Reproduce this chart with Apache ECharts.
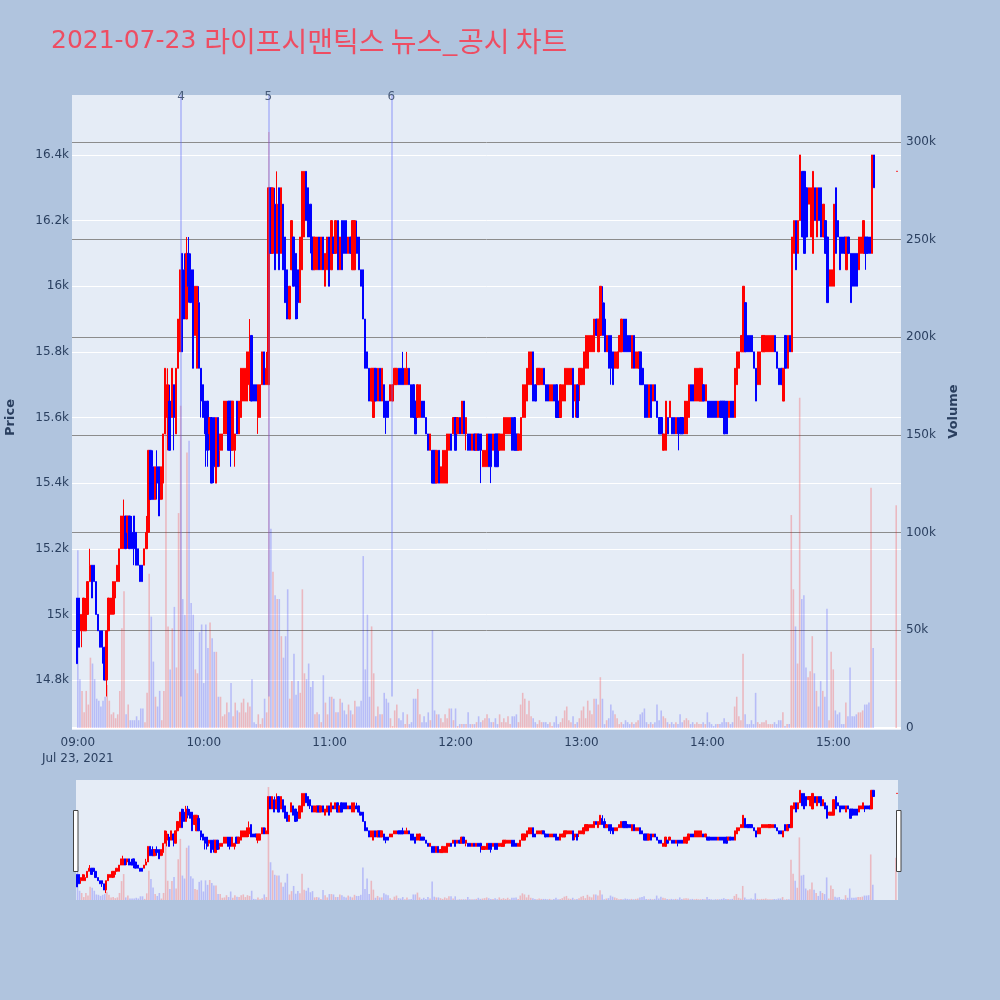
<!DOCTYPE html>
<html>
<head>
<meta charset="utf-8">
<script src="https://cdn.jsdelivr.net/npm/echarts@6/dist/echarts.min.js"></script>
<style>
html,body{margin:0;padding:0;background:#b0c4de;}
#chart{width:1000px;height:1000px;}
</style>
</head>
<body>
<div id="chart"></div>
<script>
// ---------------- DATA ----------------
const titleDate = '2021-07-23';
const titleText = '라이프시맨틱스 뉴스_공시 차트';
const dateLabel = 'Jul 23, 2021';
const tradeDay = [2021, 6, 23]; // year, month (0-based), day

// one candle per minute: [open, close, low, high]
const candles0900 = [
[15050,14850,14850,15050],[15050,14900,14900,15050],[14950,15000,14900,15000],[14950,15050,14950,15050],[14950,15000,14950,15050],
[15000,15100,15000,15100],[15100,15150,15100,15200],[15150,15050,15050,15150],[15150,15100,15100,15150],[15100,15000,15000,15100],
[15000,14950,14950,15000],[14950,14900,14900,14950],[14950,14900,14850,14950],[14900,14800,14800,14900],[14800,14950,14750,14950],
[14950,15050,14950,15050],[15000,15050,15000,15050],[15000,15100,15000,15100],[15050,15100,15000,15100],[15100,15150,15100,15150],
[15100,15200,15100,15200],[15200,15300,15200,15300],[15200,15300,15200,15350],[15300,15200,15200,15300],[15250,15300,15200,15300],
[15300,15200,15200,15300],[15250,15200,15200,15300],[15300,15200,15150,15300],[15250,15150,15150,15250],[15200,15150,15150,15200],
[15150,15100,15100,15150],[15150,15100,15100,15150],[15150,15200,15150,15200],[15200,15250,15200,15300],[15250,15500,15250,15500],
[15500,15350,15350,15500],[15450,15350,15350,15500],[15350,15450,15350,15450],[15450,15400,15350,15500],[15450,15300,15300,15450],
[15350,15450,15350,15450],[15400,15550,15350,15550],[15550,15750,15550,15750],[15600,15700,15500,15750],[15650,15500,15500,15700],
[15600,15750,15600,15750],[15700,15600,15500,15700],[15550,15750,15550,15750],[15750,15900,15750,15900],[15800,16050,15800,16050],
[16100,15800,15800,16100],[16050,15900,15900,16100],[15900,16100,15900,16150],[16100,16000,15950,16150],[16050,15950,15950,16100],
[16050,15750,15750,16050],[15850,16000,15850,16000],[15750,16000,15750,16000],[15950,15750,15750,16000],[15750,15650,15600,15750]
];
const candles1000 = [
[15700,15600,15600,15700],[15650,15550,15450,15650],[15650,15500,15450,15650],[15550,15600,15500,15600],[15600,15400,15400,15600],
[15600,15450,15400,15600],[15400,15600,15400,15600],[15600,15450,15450,15600],[15500,15550,15450,15550],[15500,15550,15500,15550],
[15550,15650,15550,15650],[15550,15650,15550,15650],[15650,15500,15500,15650],[15650,15500,15450,15650],[15500,15650,15500,15650],
[15500,15550,15450,15550],[15650,15550,15550,15650],[15550,15650,15550,15650],[15600,15750,15600,15750],[15650,15750,15650,15750],
[15650,15750,15650,15750],[15650,15800,15650,15800],[15700,15800,15650,15900],[15850,15650,15650,15850],[15700,15650,15650,15700],
[15700,15650,15650,15700],[15600,15700,15550,15700],[15600,15700,15600,15700],[15700,15800,15700,15800],[15800,15700,15700,15800],
[15700,15750,15700,15800],[15700,16300,15700,16300],[16300,16100,16100,16300],[16100,16300,16100,16300],[16250,16050,16050,16300],
[16100,16250,16100,16350],[16300,16050,16050,16300],[16100,16300,16100,16300],[16250,16050,16050,16250],[16150,15950,15950,16150],
[16050,15900,15900,16050],[15900,16000,15900,16000],[16050,16200,16050,16200],[16150,16000,16000,16150],[16100,15900,15900,16100],
[16050,15950,15900,16050],[15950,16150,15950,16150],[16050,16350,16050,16350],[16150,16350,16150,16350],[16350,16200,16200,16350],
[16300,16150,16150,16300],[16250,16150,16100,16250],[16150,16050,16050,16150],[16050,16150,16050,16150],[16050,16150,16050,16150],
[16150,16050,16050,16150],[16050,16150,16050,16150],[16150,16050,16050,16150],[16000,16100,16000,16100],[16050,16150,16050,16150]
];
const candles1100 = [
[16150,16000,16000,16150],[16050,16200,16050,16200],[16150,16100,16100,16150],[16100,16200,16100,16200],[16200,16050,16050,16200],
[16050,16150,16050,16150],[16200,16050,16050,16200],[16200,16100,16100,16200],[16200,16100,16100,16200],[16100,16150,16100,16150],
[16150,16100,16100,16150],[16050,16200,16050,16200],[16050,16200,16050,16200],[16150,16100,16100,16200],[16150,16050,16050,16150],
[16050,16000,16000,16050],[16050,15900,15900,16050],[15900,15750,15750,15900],[15800,15750,15750,15800],[15750,15650,15650,15750],
[15650,15750,15650,15750],[15600,15750,15600,15750],[15750,15650,15650,15750],[15650,15750,15650,15750],[15750,15650,15650,15750],
[15650,15750,15650,15750],[15700,15600,15600,15700],[15650,15600,15550,15650],[15650,15600,15600,15650],[15650,15700,15650,15700],
[15650,15700,15650,15700],[15700,15750,15700,15750],[15700,15750,15700,15750],[15750,15700,15700,15750],[15750,15700,15700,15750],
[15750,15700,15700,15800],[15700,15750,15700,15750],[15700,15750,15700,15800],[15750,15700,15700,15750],[15700,15600,15600,15700],
[15700,15600,15600,15700],[15650,15550,15550,15650],[15600,15700,15600,15700],[15600,15700,15600,15700],[15650,15600,15600,15650],
[15650,15600,15600,15650],[15600,15550,15550,15600],[15550,15500,15500,15550],[15500,15550,15500,15550],[15500,15400,15400,15500],
[15500,15400,15400,15500],[15400,15500,15400,15500],[15500,15400,15400,15500],[15400,15450,15400,15450],[15400,15500,15400,15500],
[15400,15500,15400,15500],[15400,15550,15400,15550],[15500,15550,15500,15550],[15550,15500,15500,15550],[15550,15600,15550,15600]
];
const candles1200 = [
[15600,15500,15500,15600],[15550,15600,15550,15600],[15600,15550,15550,15600],[15550,15650,15550,15650],[15650,15550,15550,15650],
[15550,15600,15500,15600],[15550,15500,15500,15550],[15550,15500,15500,15550],[15500,15550,15500,15550],[15550,15500,15500,15550],
[15500,15550,15500,15550],[15550,15500,15500,15550],[15550,15500,15400,15550],[15450,15500,15450,15500],[15450,15500,15450,15500],
[15450,15550,15450,15550],[15550,15450,15450,15550],[15550,15450,15400,15550],[15500,15550,15500,15550],[15550,15450,15450,15550],
[15550,15450,15450,15550],[15500,15550,15500,15550],[15500,15550,15500,15550],[15500,15600,15500,15600],[15550,15600,15550,15600],
[15550,15600,15550,15600],[15550,15600,15550,15600],[15600,15500,15500,15600],[15600,15500,15500,15600],[15550,15500,15500,15550],
[15500,15550,15500,15550],[15500,15600,15500,15600],[15600,15700,15600,15700],[15600,15700,15600,15700],[15650,15750,15650,15750],
[15700,15800,15700,15800],[15700,15800,15700,15800],[15800,15650,15650,15800],[15700,15650,15650,15700],[15700,15750,15700,15750],
[15700,15750,15700,15750],[15700,15750,15700,15750],[15750,15700,15700,15750],[15700,15650,15650,15700],[15700,15650,15650,15700],
[15650,15700,15650,15700],[15650,15700,15650,15700],[15700,15650,15650,15700],[15700,15600,15600,15700],[15650,15600,15600,15650],
[15600,15700,15600,15700],[15650,15700,15650,15700],[15650,15750,15650,15750],[15700,15750,15700,15750],[15700,15750,15700,15750],
[15700,15750,15700,15750],[15750,15600,15600,15750],[15650,15700,15600,15700],[15700,15600,15600,15700],[15700,15750,15650,15750]
];
const candles1300 = [
[15700,15750,15700,15750],[15700,15800,15700,15800],[15750,15850,15750,15850],[15750,15850,15750,15850],[15800,15850,15800,15850],
[15800,15850,15800,15850],[15800,15900,15800,15900],[15900,15850,15850,15900],[15800,15900,15800,15900],[15850,16000,15850,16000],
[15950,15850,15850,16000],[15900,15800,15800,15950],[15800,15850,15800,15850],[15850,15750,15750,15850],[15850,15750,15700,15850],
[15800,15700,15700,15800],[15750,15800,15750,15800],[15750,15800,15750,15800],[15800,15850,15800,15850],[15800,15900,15800,15900],
[15900,15800,15800,15900],[15900,15800,15800,15900],[15850,15800,15800,15850],[15850,15800,15800,15850],[15750,15850,15750,15850],
[15850,15750,15750,15850],[15750,15800,15750,15800],[15750,15800,15750,15800],[15800,15700,15700,15800],[15750,15700,15700,15750],
[15700,15600,15600,15700],[15700,15600,15600,15700],[15600,15700,15600,15700],[15700,15600,15600,15700],[15650,15700,15650,15700],
[15700,15650,15650,15700],[15650,15600,15600,15650],[15600,15550,15550,15600],[15600,15550,15550,15600],[15500,15550,15500,15550],
[15500,15650,15500,15650],[15600,15550,15550,15600],[15600,15650,15600,15650],[15600,15550,15550,15600],[15600,15550,15550,15600],
[15550,15600,15550,15600],[15600,15550,15500,15600],[15600,15550,15550,15600],[15600,15550,15550,15600],[15550,15650,15550,15650],
[15550,15650,15550,15650],[15600,15700,15600,15700],[15700,15650,15650,15700],[15700,15650,15650,15700],[15650,15750,15650,15750],
[15650,15750,15650,15750],[15650,15750,15650,15750],[15650,15750,15650,15750],[15700,15650,15650,15700],[15650,15700,15650,15700]
];
const candles1400 = [
[15650,15600,15600,15650],[15650,15600,15600,15650],[15650,15600,15600,15650],[15650,15600,15600,15650],[15650,15600,15600,15650],
[15600,15650,15600,15650],[15650,15600,15600,15650],[15650,15600,15600,15650],[15650,15550,15550,15650],[15650,15550,15550,15650],
[15600,15650,15600,15650],[15650,15600,15600,15650],[15650,15600,15600,15650],[15600,15750,15600,15750],[15700,15800,15700,15800],
[15750,15800,15750,15800],[15800,15850,15800,15850],[15800,16000,15800,16000],[15950,15800,15800,15950],[15850,15800,15800,15850],
[15850,15800,15800,15850],[15850,15800,15800,15850],[15800,15750,15750,15800],[15750,15650,15650,15750],[15700,15800,15700,15800],
[15700,15800,15700,15800],[15800,15850,15800,15850],[15800,15850,15800,15850],[15800,15850,15800,15850],[15800,15850,15800,15850],
[15800,15850,15800,15850],[15800,15850,15800,15850],[15850,15800,15800,15850],[15800,15750,15750,15800],[15750,15700,15700,15750],
[15750,15700,15700,15750],[15650,15750,15650,15750],[15850,15750,15750,15850],[15750,15850,15750,15850],[15850,15800,15800,15850],
[15800,16150,15800,16150],[16100,16200,16100,16200],[16200,16050,16050,16200],[16100,16200,16100,16200],[16200,16400,16200,16400],
[16350,16150,16150,16350],[16350,16100,16100,16350],[16300,16150,16150,16300],[16250,16300,16250,16300],[16150,16300,16150,16300],
[16100,16350,16100,16350],[16300,16200,16200,16300],[16150,16300,16150,16300],[16300,16200,16200,16300],[16300,16150,16150,16300],
[16150,16250,16150,16250],[16200,16100,16100,16200],[16150,15950,15950,16150],[16000,16050,16000,16050],[16000,16050,16000,16050]
];
const candles1500 = [
[16000,16250,16000,16250],[16300,16100,16100,16300],[16200,16150,16150,16200],[16150,16050,16050,16150],[16150,16100,16100,16150],
[16150,16100,16100,16150],[16050,16150,16050,16150],[16150,16100,16100,16150],[16100,15950,15950,16100],[16100,16000,16000,16100],
[16100,16000,16000,16100],[16100,16000,16000,16100],[16050,16150,16050,16150],[16100,16150,16100,16150],[16100,16200,16100,16200],
[16150,16100,16050,16150],[16150,16100,16100,16150],[16150,16100,16100,16150],[16100,16400,16100,16400],[16400,16300,16300,16400]
];
// closing single-price auction at 15:30
const closingTime = [15, 30];
const closingCandle = [16350,16350,16350,16350];
const closingVolumeK = 114;

// volume per minute, thousands of shares
const volumesK0900 = [91,25,19,8,19,12,36,33,25,15,14,11,14,16,22,14,7,8,5,7,19,51,70,7,12,4,4,4,6,4,10,10,3,18,79,57,34,16,11,19,4,19,184,52,30,51,62,31,110,165,66,58,141,147,64,58,30,28,49,53];
const volumesK1000 = [23,53,41,54,46,39,39,16,16,6,7,13,8,23,6,13,9,8,13,15,8,13,11,25,3,2,7,2,5,15,8,305,102,80,68,66,66,47,36,47,71,15,24,38,17,24,18,71,28,25,33,21,24,7,8,7,3,27,13,7];
const volumesK1100 = [16,16,15,8,8,15,13,9,7,12,9,7,14,11,11,14,88,30,58,16,52,28,6,11,7,7,18,15,13,5,1,9,12,5,4,8,2,7,2,3,15,15,20,7,3,6,3,8,4,50,9,7,7,5,3,7,5,10,10,4];
const volumesK1200 = [10,1,2,2,2,2,8,2,2,2,3,6,3,4,5,7,5,3,3,5,2,7,3,5,3,6,2,6,6,7,3,12,18,15,7,14,6,5,3,2,4,3,3,3,2,3,1,3,6,2,3,5,9,11,4,3,6,2,3,5];
const volumesK1300 = [9,11,5,14,9,7,15,15,12,26,15,2,4,5,12,9,7,5,2,3,2,4,3,2,3,2,3,4,7,8,10,3,2,3,2,3,12,4,9,6,5,3,2,3,2,3,2,7,3,4,5,4,2,3,2,3,2,2,3,2];
const volumesK1400 = [8,3,2,1,2,2,2,3,5,3,3,2,3,11,16,6,4,38,7,2,2,4,2,18,3,2,3,3,4,2,2,2,3,2,4,4,8,1,2,2,109,71,52,33,169,66,68,31,26,29,47,28,19,11,24,19,16,61,4,39];
const volumesK1500 = [30,9,7,8,2,2,13,6,31,6,6,7,8,8,9,12,12,13,123,41];

// news / disclosure markers
const eventTimes = [[9,49,30],[10,31,0],[11,29,30]];
const eventLabels = ['4','5','6'];

// axis ticks
const priceTicks = [14800,15000,15200,15400,15600,15800,16000,16200,16400];
const volumeTicks = [50000,100000,150000,200000,250000,300000];

// ---------------- BUILD ----------------
const FONT = '"DejaVu Sans", "Noto Sans CJK KR", sans-serif';
const KFONT = '"Noto Sans CJK KR", "DejaVu Sans", sans-serif';
const TXT = '#2a3f5f';
const TITLE_COLOR = '#ee4d62';
const t = (h, m, s) => new Date(tradeDay[0], tradeDay[1], tradeDay[2], h, m, s || 0).getTime();

const hourBlocks = [
  [9, candles0900, volumesK0900], [10, candles1000, volumesK1000], [11, candles1100, volumesK1100],
  [12, candles1200, volumesK1200], [13, candles1300, volumesK1300], [14, candles1400, volumesK1400],
  [15, candles1500, volumesK1500]
];
const candleData = [];
const volumeData = [];
let prevClose = null;
function pushMinute(ts, c, vK) {
  const up = c[1] > c[0] || (c[1] === c[0] && (prevClose === null || c[1] >= prevClose));
  candleData.push([ts, c[0], c[1], c[2], c[3]]);
  volumeData.push({ value: [ts, vK * 1000], itemStyle: { color: up ? 'rgba(255,0,0,0.22)' : 'rgba(0,0,255,0.2)' } });
  prevClose = c[1];
}
hourBlocks.forEach(([h, cs, vs]) => cs.forEach((c, i) => pushMinute(t(h, i), c, vs[i])));
pushMinute(t(closingTime[0], closingTime[1]), closingCandle, closingVolumeK);

const mainMin = t(8, 57, 36), mainMax = t(15, 31, 54);
const sliderMin = t(8, 59, 40), sliderMax = t(15, 30, 37);
const pad = n => (n < 10 ? '0' : '') + n;

const hiddenTime = (gi, mn, mx) => ({ type: 'time', gridIndex: gi, min: mn, max: mx, show: false });
const hiddenVal = (gi, mn, mx) => ({ type: 'value', gridIndex: gi, min: mn, max: mx, show: false, splitLine: { show: false } });

const candleStyle = { color: '#ff0000', color0: '#0000ff', borderColor: '#ff0000', borderColor0: '#0000ff', borderWidth: 1 };

const eventTs = eventTimes.map(e => t(e[0], e[1], e[2]));

const gridBase = { outerBoundsMode: 'none', containLabel: false };

const option = {
  animation: false,
  backgroundColor: '#b0c4de',
  title: {
    text: '{d|' + titleDate + ' }{k|' + titleText + '}', left: 51, top: 26, padding: 0,
    textStyle: {
      color: TITLE_COLOR, fontSize: 25, fontWeight: 'normal', fontFamily: FONT,
      rich: {
        d: { color: TITLE_COLOR, fontSize: 25, fontFamily: FONT, lineHeight: 30 },
        k: { color: TITLE_COLOR, fontSize: 28, fontFamily: KFONT, lineHeight: 30 }
      }
    }
  },
  grid: [
    Object.assign({ left: 72, right: 99, top: 95, height: 635, show: true, backgroundColor: '#e5ecf6', borderWidth: 0 }, gridBase),
    Object.assign({ left: 72, right: 99, top: 89.3, height: 656.4 }, gridBase),
    Object.assign({ left: 72, right: 99, top: 95, height: 633 }, gridBase),
    Object.assign({ left: 76, right: 102, top: 780, height: 120, show: true, backgroundColor: '#e5ecf6', borderWidth: 0 }, gridBase),
    Object.assign({ left: 76, right: 102, top: 780, height: 120 }, gridBase)
  ],
  xAxis: [
    hiddenTime(0, mainMin, mainMax),
    hiddenTime(1, mainMin, mainMax),
    {
      type: 'time', gridIndex: 2, min: mainMin, max: mainMax,
      minInterval: 3600000, maxInterval: 3600000,
      axisLine: { show: false }, axisTick: { show: false }, splitLine: { show: false },
      axisLabel: {
        margin: 7, color: TXT, fontSize: 12, fontFamily: FONT, lineHeight: 16,
        showMinLabel: false, showMaxLabel: false, hideOverlap: false,
        formatter: v => {
          const d = new Date(v);
          if (d.getMinutes() || d.getSeconds()) return '';
          const s = pad(d.getHours()) + ':00';
          return d.getHours() === 9 ? s + '\n' + dateLabel : s;
        }
      }
    },
    hiddenTime(3, sliderMin, sliderMax),
    hiddenTime(4, sliderMin, sliderMax)
  ],
  yAxis: [
    hiddenVal(0, 0, 1),
    {
      type: 'value', gridIndex: 1, position: 'left', min: 14600, max: 16600, interval: 200,
      name: 'Price', nameLocation: 'middle', nameGap: 55, nameRotate: 90,
      nameTextStyle: { color: TXT, fontSize: 13, fontWeight: 'bold', fontFamily: FONT },
      axisLine: { show: false }, axisTick: { show: false }, splitLine: { show: false },
      axisLabel: {
        margin: 3, color: TXT, fontSize: 12, fontFamily: FONT, showMinLabel: false, showMaxLabel: false,
        formatter: v => (v / 1000) + 'k'
      }
    },
    {
      type: 'value', gridIndex: 2, position: 'right', min: 0, max: 324000, interval: 50000,
      name: 'Volume', nameLocation: 'middle', nameGap: 45, nameRotate: 90,
      nameTextStyle: { color: TXT, fontSize: 13, fontWeight: 'bold', fontFamily: FONT },
      axisLine: { show: false }, axisTick: { show: false }, splitLine: { show: false },
      axisLabel: {
        margin: 5, color: TXT, fontSize: 12, fontFamily: FONT, showMaxLabel: false,
        formatter: v => (v === 0 ? '0' : (v / 1000) + 'k')
      }
    },
    hiddenVal(3, 14640, 16565),
    hiddenVal(4, 0, 324000)
  ],
  series: [
    {
      name: 'Volume', type: 'bar', xAxisIndex: 2, yAxisIndex: 2, barWidth: 1.6, z: 2,
      data: volumeData, silent: true,
      markLine: {
        silent: true, symbol: ['none', 'none'], z: 1, label: { show: false },
        data: volumeTicks.map(v => ({ yAxis: v, lineStyle: { color: '#8c8c8c', width: 1, type: 'solid' } }))
          .concat([{ yAxis: 0, lineStyle: { color: '#ffffff', width: 2, type: 'solid' } }])
      }
    },
    {
      name: 'Price', type: 'candlestick', xAxisIndex: 1, yAxisIndex: 1, barWidth: 1.8, z: 3,
      data: candleData, itemStyle: candleStyle, silent: true,
      markLine: {
        silent: true, symbol: ['none', 'none'], z: 1, label: { show: false },
        lineStyle: { color: '#ffffff', width: 1, type: 'solid' },
        data: priceTicks.map(p => ({ yAxis: p }))
      }
    },
    {
      name: 'events', type: 'scatter', xAxisIndex: 1, yAxisIndex: 1, z: 6, silent: true,
      symbolSize: 1, itemStyle: { color: 'rgba(0,0,0,0)' },
      label: { show: true, position: 'inside', color: TXT, fontSize: 12, fontFamily: FONT, formatter: p => p.data[2] },
      data: eventTs.map((ts, i) => [ts, 16578, eventLabels[i]]),
      markLine: {
        silent: true, symbol: ['none', 'none'], z: 5, label: { show: false },
        lineStyle: { color: 'rgba(99,110,250,0.45)', width: 1.5, type: 'solid' },
        data: eventTs.map(ts => [{ coord: [ts, 14750] }, { coord: [ts, 16583] }])
      }
    },
    {
      name: 'sliderVolume', type: 'bar', xAxisIndex: 4, yAxisIndex: 4, barWidth: 1.6, z: 2, silent: true,
      data: volumeData
    },
    {
      name: 'sliderPrice', type: 'candlestick', xAxisIndex: 3, yAxisIndex: 3, barWidth: 1.8, z: 3, silent: true,
      data: candleData, itemStyle: candleStyle
    }
  ],
  graphic: [
    { type: 'rect', left: 73, top: 810, z: 100, shape: { width: 4.5, height: 61 }, style: { fill: '#ffffff', stroke: '#444444', lineWidth: 1 } },
    { type: 'rect', left: 896, top: 810, z: 100, shape: { width: 4.5, height: 61 }, style: { fill: '#ffffff', stroke: '#444444', lineWidth: 1 } }
  ]
};

const chart = echarts.init(document.getElementById('chart'), null, { renderer: 'canvas' });
chart.setOption(option);
</script>
</body>
</html>
